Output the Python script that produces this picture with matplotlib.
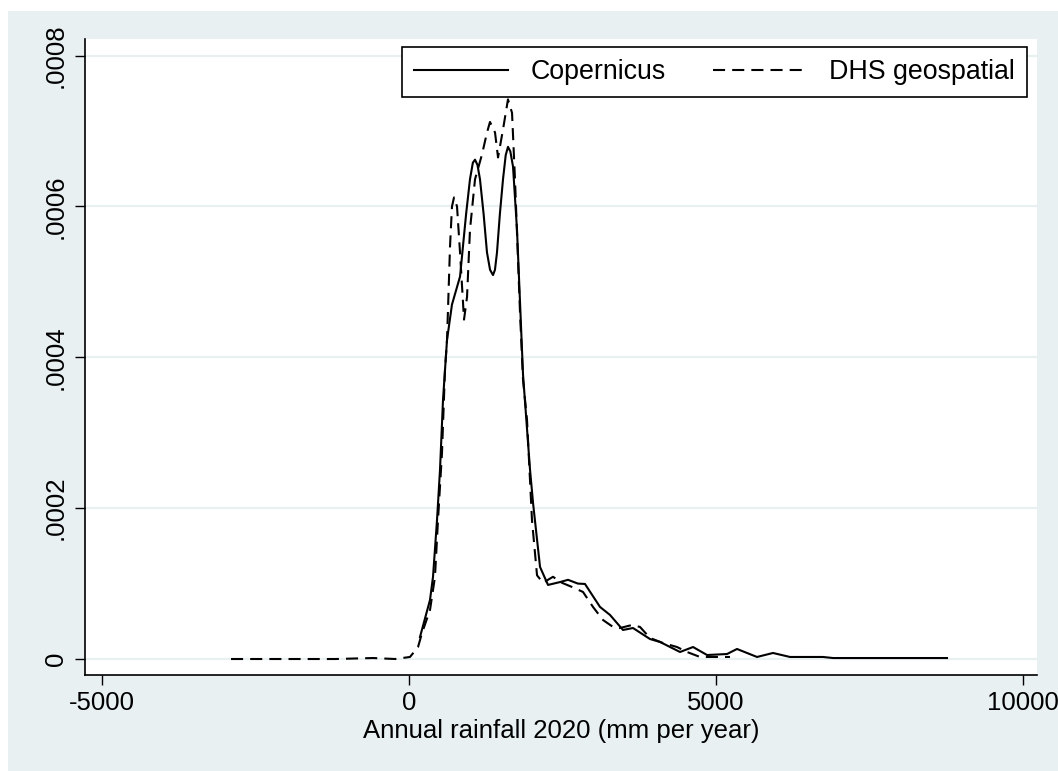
import numpy as np
import matplotlib.pyplot as plt
from matplotlib.patches import Rectangle

# annual rainfall (mm/year) and kernel density
cop_x = [179, 342, 391, 456, 505, 554, 619, 700, 831, 930, 993, 1040, 1075, 1115, 1156, 1215,
         1270, 1320, 1368, 1400, 1433, 1480, 1531, 1575, 1612, 1650, 1694, 1759, 1857, 1971,
         2020, 2134, 2264, 2459, 2590, 2750, 2866, 3111, 3274, 3485, 3648, 3925, 4088, 4414,
         4626, 4854, 5179, 5342, 5668, 5928, 6205, 6743, 6906, 8762]
cop_y = [0.0000292, 0.0000783, 0.000109, 0.000184, 0.000251, 0.000344, 0.000423, 0.000470,
         0.000507, 0.000590, 0.000636, 0.000658, 0.000662, 0.000655, 0.000636, 0.000590,
         0.000539, 0.000516, 0.000509, 0.000516, 0.000539, 0.000590, 0.000636, 0.000668,
         0.000679, 0.000673, 0.000653, 0.000569, 0.000377, 0.000251, 0.000207, 0.000122,
         0.0000982, 0.000102, 0.000105, 0.000100, 0.0000995, 0.000069, 0.0000584, 0.0000385,
         0.0000411, 0.0000265, 0.0000226, 0.0000093, 0.0000159, 0.0000053, 0.0000066,
         0.0000133, 0.0000027, 0.0000080, 0.0000027, 0.0000027, 0.0000013, 0.0000013]

dhs_x = [-2899, -1200, -586, -228, 16, 147, 212, 342, 423, 472, 537, 586, 619, 668, 700, 733,
         782, 831, 896, 945, 993, 1075, 1189, 1270, 1319, 1401, 1450, 1531, 1612, 1678, 1726,
         1808, 1857, 1922, 2003, 2085, 2182, 2345, 2492, 2655, 2834, 2997, 3160, 3323, 3437,
         3632, 3762, 3925, 4137, 4365, 4528, 4740, 5228]
dhs_y = [0.0, 0.0, 0.0000013, 0.0, 0.0000027, 0.0000159, 0.0000345, 0.000065, 0.000109,
         0.000184, 0.000273, 0.000383, 0.000423, 0.000547, 0.000600, 0.000612, 0.000600,
         0.000539, 0.000450, 0.000480, 0.000569, 0.000636, 0.000669, 0.000698, 0.000712,
         0.000698, 0.000665, 0.000702, 0.000742, 0.000724, 0.000636, 0.000459, 0.000370,
         0.000317, 0.000184, 0.000111, 0.000101, 0.000109, 0.000101, 0.0000955, 0.0000889,
         0.000069, 0.0000517, 0.0000425, 0.0000411, 0.0000451, 0.0000425, 0.0000279,
         0.0000212, 0.0000159, 0.0000093, 0.0000027, 0.0000027]

x_ticks = [-5000, 0, 5000, 10000]
y_ticks = [0, 0.0002, 0.0004, 0.0006, 0.0008]
y_labels = ['0', '.0002', '.0004', '.0006', '.0008']

bg = '#E8F0F2'
plt.rcParams['font.family'] = ['Liberation Sans', 'DejaVu Sans']

fig = plt.figure(figsize=(10.58, 7.71), dpi=100, facecolor='white')
fig.patches.append(Rectangle((8 / 1058, -0.01), 1, 1.01 - 11 / 771, transform=fig.transFigure,
                             facecolor=bg, edgecolor='none', zorder=-10))
ax = fig.add_axes([85 / 1058, 1 - 675 / 771, (1037 - 85) / 1058, (675 - 39) / 771])
ax.set_facecolor('white')

ax.plot(cop_x, cop_y, color='black', lw=1.5, label='Copernicus')
ax.plot(dhs_x, dhs_y, color='black', lw=1.5, dashes=(5.8, 3.4), label='DHS geospatial')

ax.set_xlim(-5277, 10228)
ax.set_ylim(-0.0000212, 0.000822)
ax.set_xticks(x_ticks)
ax.set_xticklabels([str(t) for t in x_ticks])
ax.set_yticks(y_ticks)
ax.set_yticklabels(y_labels, rotation=90, va='center')
ax.grid(axis='y', color=bg, lw=1.6)
ax.set_axisbelow(True)

for s in ['top', 'right']:
    ax.spines[s].set_visible(False)
for s in ['left', 'bottom']:
    ax.spines[s].set_linewidth(1.2)
ax.tick_params(axis='both', direction='out', length=7.2, width=1.0, labelsize=18.5)
ax.tick_params(axis='y', pad=5)
ax.tick_params(axis='x', pad=4)
ax.set_xlabel('Annual rainfall 2020 (mm per year)', fontsize=18.5, labelpad=3)

leg = ax.legend(loc='upper right', bbox_to_anchor=(1027 / 1058, 1 - 47 / 771),
                bbox_transform=fig.transFigure, ncol=2, fontsize=19.3, frameon=True,
                fancybox=False, edgecolor='black', framealpha=1, handlelength=3.5,
                columnspacing=1.75, handletextpad=0.85, borderpad=0.45, borderaxespad=0)
leg.get_frame().set_linewidth(1.2)

fig.savefig('out.png', dpi=100, facecolor=fig.get_facecolor())
